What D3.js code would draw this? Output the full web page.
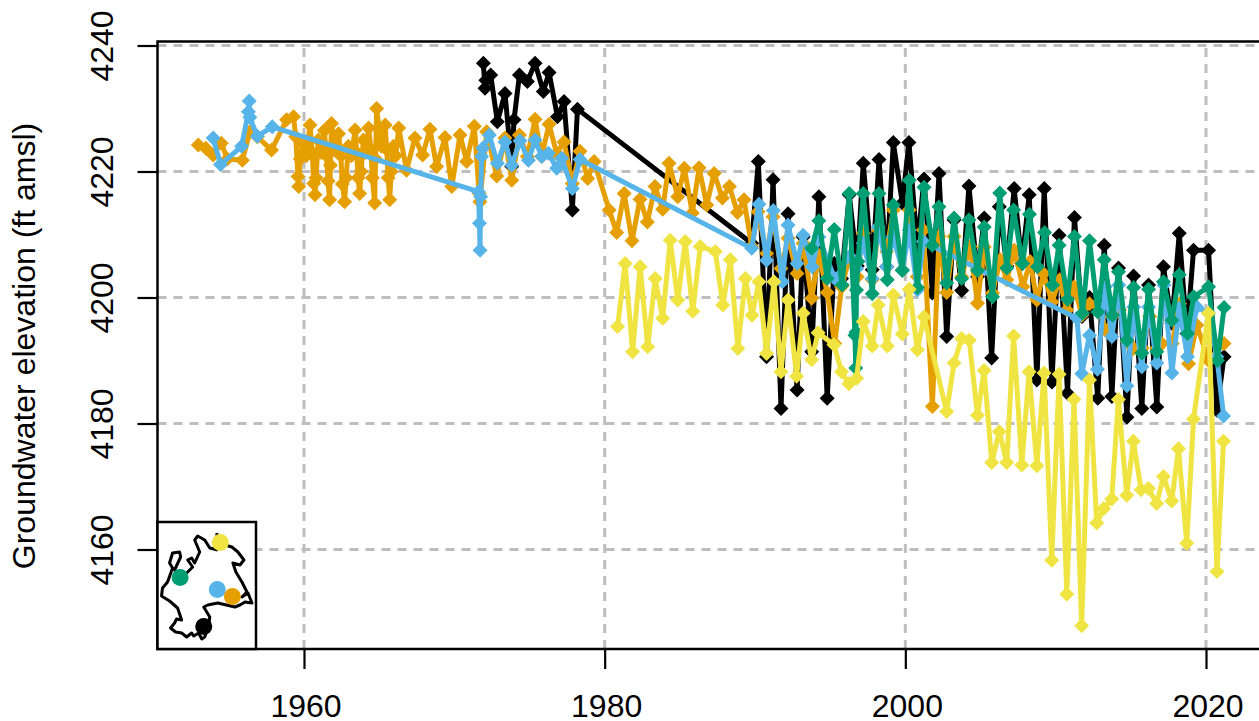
<!DOCTYPE html>
<html>
<head>
<meta charset="utf-8">
<script src="https://d3js.org/d3.v7.min.js"></script>
<style>
  html, body { margin: 0; padding: 0; background: #fff; overflow: hidden; }
  text { font-family: "Liberation Sans", Arial, sans-serif; fill: #000; }
</style>
</head>
<body>
<script>
// well records, [decimal year, groundwater elevation in ft amsl]
var blackWell = [[1971.93,4237.2],[1972.04,4233.2],[1972.1,4234.5],[1972.42,4235.3],[1972.86,4227.9],[1973.37,4232.4],[1973.82,4220.8],[1973.97,4228.2],[1974.33,4235.3],[1974.86,4234.3],[1975.37,4237.2],[1975.92,4232.7],[1976.3,4235.7],[1976.86,4228.7],[1977.3,4231.1],[1977.85,4213.9],[1978.19,4229.9],[1989.78,4208.6],[1990.22,4221.6],[1990.77,4190.6],[1991.2,4218.7],[1991.73,4182.4],[1992.2,4213.3],[1992.8,4185.3],[1993.2,4209.6],[1993.77,4191.4],[1994.25,4216],[1994.8,4184],[1995.27,4205.4],[1995.76,4203],[1996.27,4216.3],[1996.8,4205],[1997.2,4221.3],[1997.8,4204.4],[1998.25,4221.9],[1998.76,4204.9],[1999.2,4224.6],[1999.8,4215],[2000.24,4224.6],[2000.8,4208],[2001.24,4218.8],[2001.8,4200.7],[2002.24,4219.7],[2002.75,4193.8],[2003.24,4212.3],[2003.75,4201.1],[2004.23,4217.7],[2004.8,4203.3],[2005.25,4212.6],[2005.74,4190.4],[2006.25,4214.4],[2006.75,4205],[2007.24,4217.3],[2007.75,4205.4],[2008.24,4216.3],[2008.75,4186.9],[2009.24,4217.3],[2009.75,4186.6],[2010.23,4209.9],[2010.79,4184.8],[2011.25,4212.7],[2011.75,4197],[2012.25,4200],[2012.8,4184],[2013.23,4208.3],[2013.74,4184.3],[2014.18,4204.7],[2014.74,4181],[2015.18,4203.4],[2015.73,4182.4],[2016.18,4202],[2016.73,4182.6],[2017.17,4204.9],[2017.73,4195.9],[2018.22,4210.2],[2018.73,4194.3],[2019.17,4207.5],[2020.17,4207.5],[2020.72,4182.1],[2021.2,4190.6]];

var orangeWell = [[1952.97,4224.2],[1953.47,4223.7],[1953.96,4222.6],[1954.5,4224.5],[1954.9,4222],[1955.9,4221.8],[1956.4,4226.3],[1956.9,4225.5],[1957.84,4223.4],[1958.84,4228.2],[1959.3,4228.7],[1959.45,4225.5],[1959.6,4219.2],[1959.65,4217.6],[1959.75,4222],[1959.9,4224.5],[1960.15,4222.5],[1960.4,4227.4],[1960.55,4223],[1960.65,4218.1],[1960.73,4216.3],[1960.8,4219],[1960.95,4225],[1961.15,4223],[1961.35,4226.5],[1961.5,4222.5],[1961.6,4218.5],[1961.7,4215.5],[1961.76,4221],[1961.83,4227.6],[1962.05,4223.5],[1962.3,4226],[1962.45,4222.5],[1962.55,4218],[1962.7,4215.2],[1962.8,4219],[1962.95,4224],[1963.15,4222.5],[1963.4,4226.6],[1963.5,4223],[1963.6,4219],[1963.7,4216.5],[1963.8,4220],[1963.95,4225],[1964.1,4223],[1964.3,4226.9],[1964.45,4223.5],[1964.55,4219],[1964.7,4215],[1964.76,4222],[1964.83,4230],[1965.15,4224],[1965.4,4227.4],[1965.5,4223.5],[1965.6,4219],[1965.7,4215.5],[1965.8,4220],[1965.95,4224],[1966.1,4222.5],[1966.3,4226.9],[1966.82,4220.2],[1967.38,4225.3],[1967.89,4222.6],[1968.38,4226.7],[1968.82,4220.8],[1969.38,4225.4],[1969.83,4217.6],[1970.38,4225.8],[1970.82,4221.6],[1971.33,4227.2],[1971.65,4216.5],[1971.7,4215.2],[1972.15,4226.3],[1972.82,4219.3],[1973.37,4225.3],[1973.82,4218.6],[1974.33,4225.8],[1974.86,4222.4],[1975.37,4228.3],[1975.81,4222.4],[1976.3,4227.5],[1976.8,4222.9],[1977.3,4224.7],[1977.85,4218.1],[1978.36,4223.2],[1978.87,4218.9],[1979.3,4221.6],[1980.3,4213.9],[1980.8,4210.3],[1981.3,4216.5],[1981.82,4209],[1982.35,4215.6],[1982.84,4212],[1983.35,4217.6],[1983.86,4214],[1984.28,4221.3],[1984.86,4216],[1985.3,4220.5],[1985.83,4213.4],[1986.28,4220.6],[1986.79,4214.7],[1987.28,4219.7],[1987.83,4215.8],[1988.3,4217.6],[1988.83,4213.5],[1989.27,4215.5],[1989.78,4208.1],[1990.2,4213.6],[1990.77,4207],[1991.2,4212.8],[1991.73,4204.6],[1992.2,4209.4],[1992.8,4203.8],[1993.2,4208.6],[1993.77,4199.9],[1994.25,4206.7],[1994.8,4200.8],[1995.3,4192.7],[1995.76,4201.7],[1996.3,4206.5],[1996.8,4203.3],[1997.2,4210.2],[1997.8,4202.8],[1998.2,4210.7],[1998.76,4207.3],[1999.2,4213.9],[1999.8,4204.4],[2000.26,4213.9],[2000.8,4203.3],[2001.2,4210.7],[2001.8,4182.7],[2002.24,4209.7],[2002.75,4200.8],[2003.24,4209.7],[2003.75,4203.3],[2004.3,4208.1],[2004.8,4199.1],[2005.25,4208],[2005.8,4200.7],[2006.31,4206],[2006.75,4202.8],[2007.24,4207.5],[2007.82,4201.7],[2008.3,4205.7],[2008.75,4199.6],[2009.19,4203.8],[2009.75,4199.3],[2010.26,4202.8],[2010.74,4198],[2011.23,4201.7],[2011.74,4197.2],[2012.25,4199],[2012.75,4198.8],[2013.4,4194.6],[2013.75,4197],[2014.25,4198],[2014.75,4193],[2015.18,4191.9],[2015.75,4192],[2016.25,4197],[2016.75,4192],[2017.06,4192.7],[2017.75,4192.7],[2018.25,4199],[2018.84,4189.5],[2019.39,4195.6],[2020.17,4190],[2021.2,4192.7]];

var blueWell = [[1953.96,4225.3],[1954.45,4221.1],[1955.85,4224],[1956.3,4229.5],[1956.36,4231.2],[1956.4,4228.6],[1956.89,4225.6],[1957.89,4227.1],[1971.6,4216.8],[1971.67,4211.8],[1971.71,4207.5],[1971.75,4216],[1971.82,4222.4],[1971.89,4223.7],[1972.33,4225.8],[1972.86,4221.3],[1973.37,4224.7],[1973.82,4221],[1974.37,4224.9],[1974.93,4221.8],[1975.37,4225],[1975.81,4222.4],[1976.26,4222.9],[1976.81,4220.5],[1977.14,4222.1],[1977.85,4217.3],[1978.36,4221.9],[1989.78,4207.8],[1990.26,4214.8],[1990.77,4205.9],[1991.22,4213.8],[1991.82,4202.5],[1992.2,4211.5],[1992.8,4205.4],[1993.2,4209.9],[1993.8,4204.9],[1994.25,4209.6],[1995.3,4203],[1996.3,4206.5],[1996.76,4204.6],[1997.2,4208.6],[1997.8,4203],[1998.2,4211.2],[1998.76,4204.9],[1999.2,4209.6],[1999.8,4204.4],[2000.26,4210.7],[2000.8,4201.2],[2001.2,4208.9],[2011.41,4196.7],[2011.74,4187.9],[2012.25,4194],[2012.78,4188.6],[2013.3,4201.7],[2013.74,4193.8],[2014.2,4202],[2014.74,4186],[2015.2,4198.5],[2015.73,4189],[2016.18,4198.5],[2016.73,4189.6],[2017.2,4202],[2017.73,4188],[2018.22,4198.3],[2018.77,4190.6],[2019.39,4198.5],[2020.17,4197.5],[2020.72,4190.6],[2021.17,4181.2]];

var greenWell = [[1993.77,4207.8],[1994.25,4212.2],[1994.8,4203],[1995.27,4210.8],[1995.8,4202],[1996.27,4216.5],[1996.65,4194],[1996.7,4188.8],[1996.72,4194.5],[1996.75,4201.2],[1996.85,4205.7],[1997.2,4216.5],[1997.8,4200.6],[1998.25,4216.5],[1998.8,4202.8],[1999.2,4214.7],[1999.8,4204.3],[2000.26,4218.6],[2000.8,4201.6],[2001.24,4217.5],[2001.8,4208.3],[2002.24,4214.4],[2002.75,4202.3],[2003.24,4212.6],[2003.75,4203],[2004.23,4212.3],[2004.8,4204.3],[2005.25,4211.2],[2005.8,4200.1],[2006.28,4216.6],[2006.75,4204.7],[2007.2,4213.9],[2007.8,4205.4],[2008.26,4213.2],[2008.79,4204.9],[2009.26,4210.3],[2009.79,4202],[2010.23,4208.3],[2010.79,4199.7],[2011.25,4209.7],[2011.79,4197.5],[2012.25,4209],[2012.8,4197.7],[2013.23,4206],[2013.78,4197.2],[2014.18,4204.1],[2014.74,4193.2],[2015.18,4201.6],[2015.73,4191.2],[2016.18,4201.3],[2016.73,4191.4],[2017.17,4202.5],[2017.73,4196.4],[2018.22,4203.6],[2018.77,4194.3],[2019.17,4200.1],[2020.17,4201.7],[2020.77,4190],[2021.2,4198.4]];

var yellowWell = [[1980.86,4195.4],[1981.36,4205.4],[1981.86,4191.4],[1982.36,4204.9],[1982.86,4192.2],[1983.36,4203],[1983.86,4196.7],[1984.36,4209.1],[1984.86,4199.6],[1985.36,4208.9],[1985.86,4197.8],[1986.36,4208.1],[1987.36,4207.3],[1987.86,4198.8],[1988.36,4206],[1988.86,4191.9],[1989.36,4203],[1989.8,4197.2],[1990.26,4202.5],[1990.77,4191.1],[1991.26,4202.5],[1991.73,4188.2],[1992.2,4199.6],[1992.77,4187.5],[1993.2,4197.5],[1993.77,4190.1],[1994.2,4194.4],[1995.25,4192.5],[1995.76,4188.2],[1996.25,4186.3],[1996.76,4187.2],[1997.2,4196.2],[1997.8,4192.3],[1998.2,4198.8],[1998.8,4192.3],[1999.2,4200.4],[1999.8,4194.2],[2000.26,4201.3],[2000.8,4191.7],[2001.24,4196.9],[2002.75,4181.9],[2003.24,4189.6],[2003.75,4193.5],[2004.25,4193.2],[2004.8,4181.3],[2005.24,4188.4],[2005.75,4173.8],[2006.25,4178.7],[2006.75,4173.8],[2007.2,4193.9],[2007.75,4173.4],[2008.23,4188.2],[2008.75,4173.3],[2009.23,4188],[2009.74,4158.3],[2010.23,4187.8],[2010.74,4152.9],[2011.22,4183.8],[2011.73,4147.9],[2012.25,4186.9],[2012.73,4164.2],[2013.2,4166.5],[2013.73,4168],[2014.17,4183.8],[2014.73,4168.6],[2015.17,4177.2],[2015.68,4169.5],[2016.17,4169.7],[2016.72,4167.3],[2017.17,4171.6],[2017.72,4167.7],[2018.17,4176],[2018.72,4161],[2019.17,4180.7],[2020.16,4197.5],[2020.73,4156.5],[2021.17,4177.2]];

var yearTicks = [1960, 1980, 2000, 2020];
var elevTicks = [4160, 4180, 4200, 4220, 4240];
var yLabel = "Groundwater elevation (ft amsl)";

// basin outline and well locations for the little locator map (map units)
var basinOutline = [[59,11],[60,21],[74,25],[80,30],[86,38],[82,43],[75,41],[78,50],[84,60],[89,70],[84,75],[90,71],[94,81],[87,80],[82,83],[77,85],[60,81],[50,83],[46,85],[52,95],[51,103],[47,115],[44,117],[41,111],[36,114],[34,111],[29,115],[24,111],[18,110],[13,106],[17,101],[19,97],[24,98],[20,86],[12,79],[4,74],[5,66],[10,60],[15,46],[12,41],[15,31],[22,30],[23,35],[17,48],[22,55],[29,51],[35,45],[30,38],[34,36],[37,41],[42,30],[37,18],[40,14],[47,18],[52,26],[60,28]];
var wellSites = [[62.5,20.5,"#F0E442"],[22.5,55.5,"#009E73"],[59.5,67.5,"#56B4E9"],[74.5,74.5,"#E69F00"],[46,104.5,"#000000"]];

var series = [
  {color: "#000000", values: blackWell},
  {color: "#E69F00", values: orangeWell},
  {color: "#56B4E9", values: blueWell},
  {color: "#009E73", values: greenWell},
  {color: "#F0E442", values: yellowWell}
];

var width = 1259, height = 721;
var left = 157.5, top_ = 41.5, bottom = 649;

var x = d3.scaleLinear().domain([1960, 2020]).range([304, 1206]);
var y = d3.scaleLinear().domain([4160, 4240]).range([549.5, 45.5]);

var svg = d3.select("body").append("svg")
  .attr("width", width)
  .attr("height", height)
  .style("display", "block");

// grid
var grid = svg.append("g").attr("class", "grid")
  .attr("stroke", "#bebebe")
  .attr("stroke-width", 3)
  .attr("stroke-dasharray", "9,7")
  .attr("fill", "none");
grid.selectAll("line.v").data(yearTicks).enter().append("line")
  .attr("class", "v")
  .attr("x1", function(d){return x(d)}).attr("x2", function(d){return x(d)})
  .attr("y1", bottom).attr("y2", top_);
grid.selectAll("line.h").data(elevTicks).enter().append("line")
  .attr("class", "h")
  .attr("y1", function(d){return y(d)}).attr("y2", function(d){return y(d)})
  .attr("x1", left).attr("x2", width);

// well lines and points
var line = d3.line()
  .x(function(d){return x(d[0])})
  .y(function(d){return y(d[1])});

series.forEach(function(s) {
  var g = svg.append("g").attr("class", "well");
  g.append("path")
    .datum(s.values)
    .attr("fill", "none")
    .attr("stroke", s.color)
    .attr("stroke-width", 5)
    .attr("stroke-linejoin", "round")
    .attr("d", line);
  g.selectAll("path.pt").data(s.values).enter().append("path")
    .attr("class", "pt")
    .attr("fill", s.color)
    .attr("d", "M0,-7.5L7.5,0L0,7.5L-7.5,0Z")
    .attr("transform", function(d){return "translate(" + x(d[0]) + "," + y(d[1]) + ")"});
});

// axes
var xAxis = d3.axisBottom(x).tickValues(yearTicks).tickFormat(d3.format("d")).tickSize(20);
var yAxis = d3.axisLeft(y).tickValues(elevTicks).tickFormat(d3.format("d")).tickSize(20);

var gx = svg.append("g").attr("transform", "translate(0," + bottom + ")").call(xAxis);
gx.select(".domain").remove();
gx.selectAll("line").attr("stroke", "#000").attr("stroke-width", 2.2);
gx.selectAll("text")
  .style("font-size", "32px").style("font-family", "Liberation Sans")
  .attr("dy", 0).attr("x", 1.5).attr("y", 68);

var gy = svg.append("g").attr("transform", "translate(" + left + ",0)").call(yAxis);
gy.select(".domain").remove();
gy.selectAll("line").attr("stroke", "#000").attr("stroke-width", 2.2);
gy.selectAll("text")
  .style("font-size", "32px").style("font-family", "Liberation Sans")
  .attr("text-anchor", "middle").attr("dy", 0).attr("x", 0).attr("y", 0)
  .attr("transform", "translate(-44.5,0) rotate(-90)");

svg.append("path")
  .attr("fill", "none").attr("stroke", "#000").attr("stroke-width", 2.5)
  .attr("d", "M" + width + "," + top_ + "H" + left + "V" + bottom + "H" + width);

svg.append("text")
  .attr("transform", "translate(35,346) rotate(-90)")
  .attr("text-anchor", "middle")
  .style("font-size", "32px")
  .text(yLabel);

// locator inset
var mapX = d3.scaleLinear().domain([0, 98]).range([left, 256]);
var mapY = d3.scaleLinear().domain([0, 127]).range([522, bottom]);
var inset = svg.append("g").attr("class", "inset");
inset.append("rect")
  .attr("x", mapX(0)).attr("y", mapY(0))
  .attr("width", mapX(98) - mapX(0)).attr("height", mapY(127) - mapY(0))
  .attr("fill", "#fff").attr("stroke", "#000").attr("stroke-width", 2.5);
inset.append("path")
  .datum(basinOutline)
  .attr("fill", "none").attr("stroke", "#000").attr("stroke-width", 3)
  .attr("stroke-linejoin", "round")
  .attr("d", d3.line().x(function(d){return mapX(d[0])}).y(function(d){return mapY(d[1])}));
inset.selectAll("circle").data(wellSites).enter().append("circle")
  .attr("cx", function(d){return mapX(d[0])})
  .attr("cy", function(d){return mapY(d[1])})
  .attr("r", 8.5)
  .attr("fill", function(d){return d[2]});
</script>
</body>
</html>
